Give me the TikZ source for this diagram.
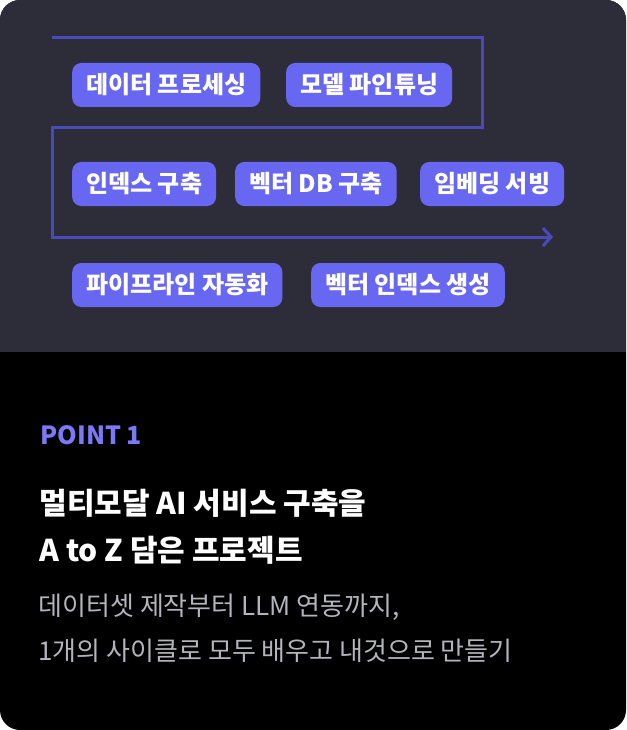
\documentclass[tikz,border=0pt]{standalone}
\usepackage{fontspec}
\setmainfont{Noto Sans CJK KR}
\usetikzlibrary{arrows.meta}

\begin{document}
\begin{tikzpicture}
[x=1pt, y=-1pt,
 every node/.style = {font = \fontsize{24}{28}\selectfont\bfseries},
 pill/.style = {fill = pillcolor, text = white, rounded corners = 9pt, anchor = west,
   minimum height = 44pt, inner xsep = 14pt, inner ysep = 0pt},
 flow/.style = {draw = flowcolor, line width = 3pt, -{Straight Barb[length=8pt,width=18pt]}}]

% Define colors
\definecolor{topcolor}{HTML}{2D2D3A}
\definecolor{pillcolor}{HTML}{6767F2}
\definecolor{flowcolor}{HTML}{4A4AB8}
\definecolor{pointcolor}{HTML}{7A7AF7}
\definecolor{subcolor}{HTML}{B4B4BC}

%%%%%%%%%% BACKGROUND
\useasboundingbox (0,0) rectangle (626,730);
\fill[black, rounded corners = 20pt] (0,0) rectangle (626,730);
\begin{scope}
  \clip[rounded corners = 20pt] (0,0) rectangle (626,730);
  \fill[topcolor] (0,0) rectangle (626,352);
\end{scope}

%%%%%%%%%% FLOW LINE
\coordinate (start) at (52,38);
\coordinate (stop) at (553,237);
\draw[flow] (start) -- (482,38) -- (482,128) -- (52,128) -- (52,237) -- (stop);

%%%%%%%%%% PILLS
\node[pill] (prep) at (72,85) {데이터 프로세싱};
\node[pill] (tune) at (286,85) {모델 파인튜닝};
\node[pill] (index) at (72,184) {인덱스 구축};
\node[pill] (vecdb) at (235,184) {벡터 DB 구축};
\node[pill] (serve) at (420,184) {임베딩 서빙};
\node[pill] (auto) at (72,285) {파이프라인 자동화};
\node[pill] (vecidx) at (311,285) {벡터 인덱스 생성};

%%%%%%%%%% TEXT
\node[anchor = west, text = pointcolor, font = \fontsize{25}{29}\selectfont\bfseries] (point) at (37,435) {POINT 1};
\node[anchor = west, text = white, font = \fontsize{30}{34}\selectfont\bfseries] (title1) at (36,503) {멀티모달 AI 서비스 구축을};
\node[anchor = west, text = white, font = \fontsize{30}{34}\selectfont\bfseries] (title2) at (36,550) {A to Z 담은 프로젝트};
\node[anchor = west, text = subcolor, font = \fontsize{26}{30}\selectfont] (sub1) at (35,607) {데이터셋 제작부터 LLM 연동까지,};
\node[anchor = west, text = subcolor, font = \fontsize{26}{30}\selectfont] (sub2) at (35,651) {1개의 사이클로 모두 배우고 내것으로 만들기};

\end{tikzpicture}
\end{document}
